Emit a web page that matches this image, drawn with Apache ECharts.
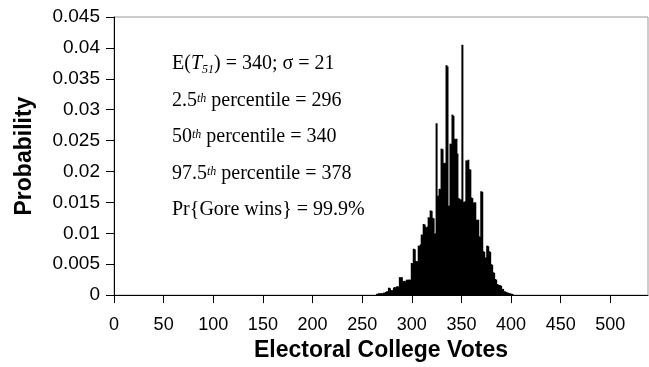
<!DOCTYPE html>
<html>
<head>
<meta charset="utf-8">
<script src="https://cdn.jsdelivr.net/npm/echarts@6/dist/echarts.min.js"></script>
<style>
  html, body { margin: 0; padding: 0; background: #fff; }
  #chart { width: 649px; height: 367px; }
</style>
</head>
<body>
<div id="chart"></div>
<script>
// Electoral college vote totals (one bar per total)
var votes = [
  265, 266, 267, 268, 269, 270, 271, 272, 273, 274,
  275, 276, 277, 278, 279, 280, 281, 282, 283, 284,
  285, 286, 287, 288, 289, 290, 291, 292, 293, 294,
  295, 296, 297, 298, 299, 300, 301, 302, 303, 304,
  305, 306, 307, 308, 309, 310, 311, 312, 313, 314,
  315, 316, 317, 318, 319, 320, 321, 322, 323, 324,
  325, 326, 327, 328, 329, 330, 331, 332, 333, 334,
  335, 336, 337, 338, 339, 340, 341, 342, 343, 344,
  345, 346, 347, 348, 349, 350, 351, 352, 353, 354,
  355, 356, 357, 358, 359, 360, 361, 362, 363, 364,
  365, 366, 367, 368, 369, 370, 371, 372, 373, 374,
  375, 376, 377, 378, 379, 380, 381, 382, 383, 384,
  385, 386, 387, 388, 389, 390, 391, 392, 393, 394,
  395, 396, 397, 398, 399, 400, 401, 402
];

// Probability of each vote total
var probability = [
  0.0002, 0.0002, 0.0003, 0.0002, 0.0003, 0.0003, 0.0002, 0.0004, 0.0003, 0.0005,
  0.0006, 0.0006, 0.0012, 0.0011, 0.0008, 0.0007, 0.0008, 0.0012, 0.0013, 0.0011,
  0.0014, 0.0014, 0.0013, 0.0029, 0.0028, 0.0029, 0.0023, 0.0022, 0.0023, 0.0020,
  0.0025, 0.0024, 0.0025, 0.0025, 0.0024, 0.0052, 0.0050, 0.0075, 0.0074, 0.0055,
  0.0055, 0.0054, 0.0080, 0.0079, 0.0082, 0.0098, 0.0097, 0.0115, 0.0114, 0.0110,
  0.0109, 0.0111, 0.0126, 0.0125, 0.0137, 0.0136, 0.0125, 0.0124, 0.0099, 0.0100,
  0.0278, 0.0160, 0.0161, 0.0172, 0.0171, 0.0237, 0.0236, 0.0214, 0.0213, 0.0214,
  0.0372, 0.0370, 0.0144, 0.0145, 0.0245, 0.0244, 0.0292, 0.0290, 0.0253, 0.0252,
  0.0253, 0.0229, 0.0157, 0.0156, 0.0154, 0.0155, 0.0405, 0.0151, 0.0150, 0.0152,
  0.0218, 0.0217, 0.0219, 0.0204, 0.0203, 0.0158, 0.0157, 0.0149, 0.0150, 0.0150,
  0.0122, 0.0121, 0.0122, 0.0095, 0.0094, 0.0168, 0.0167, 0.0071, 0.0070, 0.0061,
  0.0060, 0.0080, 0.0079, 0.0071, 0.0070, 0.0050, 0.0049, 0.0037, 0.0036, 0.0026,
  0.0025, 0.0018, 0.0017, 0.0016, 0.0016, 0.0015, 0.0010, 0.0010, 0.0006, 0.0006,
  0.0005, 0.0004, 0.0004, 0.0003, 0.0003, 0.0002, 0.0002, 0.0001
];

// Axis ticks
var xTicks = [0, 50, 100, 150, 200, 250, 300, 350, 400, 450, 500];
var yTicks = [0, 0.005, 0.01, 0.015, 0.02, 0.025, 0.03, 0.035, 0.04, 0.045];

var SANS = "'Liberation Sans', Arial, Helvetica, sans-serif";
var SERIF = "'Liberation Serif', 'Times New Roman', serif";

var chart = echarts.init(document.getElementById('chart'), null, { renderer: 'canvas' });

var barData = votes.map(function (v, i) { return [v, probability[i]]; });

// Summary statistics shown inside the plot
var richStyles = {
  n: { fontFamily: SERIF, fontSize: 20, lineHeight: 16, color: '#000' },
  n1: { fontFamily: SERIF, fontSize: 20, lineHeight: 24, color: '#000' },
  it: { fontFamily: SERIF, fontSize: 20, lineHeight: 24, fontStyle: 'italic', color: '#000' },
  sub: { fontFamily: SERIF, fontSize: 12, lineHeight: 12, fontStyle: 'italic', verticalAlign: 'bottom', color: '#000' },
  sup: { fontFamily: SERIF, fontSize: 12, lineHeight: 12, fontStyle: 'italic', verticalAlign: 'top', color: '#000' }
};

function statLine(text, top, plain) {
  var style = { text: text, fontFamily: SERIF, fontSize: 20, fill: '#000' };
  if (!plain) { style.rich = richStyles; }
  else { style.lineHeight = 16; }
  return { type: 'text', left: 172, top: top, z: 10, style: style };
}

var option = {
  backgroundColor: '#fff',
  animation: false,
  grid: {
    left: 114, right: 1, top: 17, bottom: 69,
    show: true, borderColor: '#9a9a9a', borderWidth: 1, backgroundColor: 'transparent'
  },
  xAxis: {
    type: 'value', min: 0, max: 538, interval: 50,
    name: 'Electoral College Votes', nameLocation: 'middle', nameGap: 36,
    nameTextStyle: { fontFamily: SANS, fontSize: 23, fontWeight: 'bold', color: '#000' },
    axisLine: { show: true, lineStyle: { color: '#000', width: 1 } },
    axisTick: { show: true, length: 8, lineStyle: { color: '#000' }, customValues: xTicks },
    axisLabel: { fontFamily: SANS, fontSize: 18, color: '#000', margin: 21, customValues: xTicks },
    splitLine: { show: false }
  },
  yAxis: {
    type: 'value', min: 0, max: 0.045, interval: 0.005,
    name: 'Probability', nameLocation: 'middle', nameGap: 78,
    nameTextStyle: { fontFamily: SANS, fontSize: 23, fontWeight: 'bold', color: '#000' },
    axisLine: { show: true, lineStyle: { color: '#000', width: 1 } },
    axisTick: { show: true, length: 8, lineStyle: { color: '#000' }, customValues: yTicks },
    axisLabel: {
      fontFamily: SANS, fontSize: 19, color: '#000', margin: 14, customValues: yTicks,
      formatter: function (v) { return String(+(+v).toFixed(3)); }
    },
    splitLine: { show: false }
  },
  series: [{
    type: 'bar',
    data: barData,
    barWidth: 2,
    itemStyle: { color: '#000' },
    silent: true
  }],
  graphic: [
    statLine('{n1|E(}{it|T}{sub|51}{n1|) = 340; \u03c3 = 21}', 54),
    statLine('{n|2.5}{sup|th}{n| percentile = 296}', 91),
    statLine('{n|50}{sup|th}{n| percentile = 340}', 127),
    statLine('{n|97.5}{sup|th}{n| percentile = 378}', 164),
    statLine('Pr{Gore wins} = 99.9%', 200, true)
  ]
};

chart.setOption(option);
</script>
</body>
</html>
